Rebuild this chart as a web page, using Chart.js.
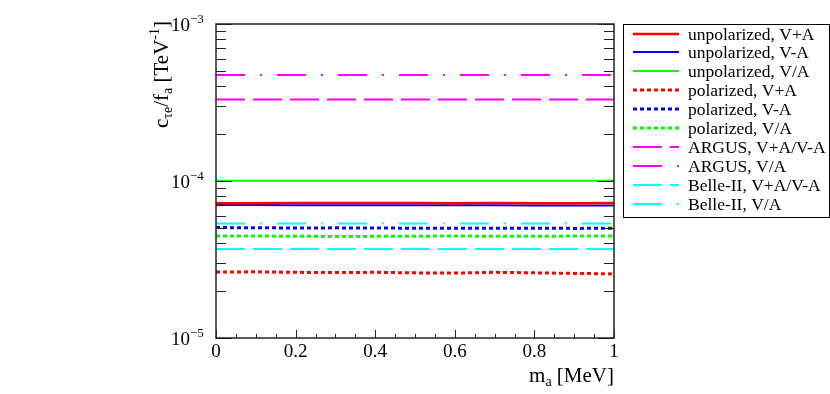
<!DOCTYPE html>
<html>
<head>
<meta charset="utf-8">
<script src="https://cdn.jsdelivr.net/npm/chart.js@4/dist/chart.umd.min.js"></script>
<style>
	html, body { margin: 0; padding: 0; background: #fff; }
</style>
</head>
<body>
<canvas id="limit-chart" width="830" height="394"></canvas>
<script>
// ****** chart data ******

// x values (m_a in MeV) where the curves were sampled
const mA = [0, 0.1, 0.2, 0.3, 0.4, 0.5, 0.6, 0.7, 0.8, 0.9, 1.0];

// unpolarized sensitivities
const unpolVpA = [7.22e-5, 7.22e-5, 7.23e-5, 7.23e-5, 7.24e-5, 7.23e-5, 7.22e-5, 7.23e-5, 7.22e-5, 7.22e-5, 7.23e-5];
const unpolVmA = [7.04e-5, 7.03e-5, 7.02e-5, 7.02e-5, 7.01e-5, 7.01e-5, 7.00e-5, 7.00e-5, 6.99e-5, 6.99e-5, 6.98e-5];
const unpolVA = [1.005e-4, 1.005e-4, 1.004e-4, 1.004e-4, 1.003e-4, 1.003e-4, 1.003e-4, 1.004e-4, 1.004e-4, 1.005e-4, 1.005e-4];

// polarized sensitivities
const polVpA = [2.63e-5, 2.64e-5, 2.62e-5, 2.61e-5, 2.62e-5, 2.60e-5, 2.59e-5, 2.62e-5, 2.60e-5, 2.58e-5, 2.56e-5];
const polVmA = [5.05e-5, 5.04e-5, 5.02e-5, 5.03e-5, 5.02e-5, 5.00e-5, 5.01e-5, 5.00e-5, 5.01e-5, 4.99e-5, 5.00e-5];
const polVA = [4.47e-5, 4.46e-5, 4.45e-5, 4.43e-5, 4.44e-5, 4.45e-5, 4.46e-5, 4.45e-5, 4.44e-5, 4.46e-5, 4.47e-5];

// existing / projected limits (flat lines across the range)
const limitX = [0, 1];
const argusVpmA = [3.31e-4, 3.31e-4];
const argusVA = [4.73e-4, 4.73e-4];
const belleVpmA = [3.69e-5, 3.69e-5];
const belleVA = [5.37e-5, 5.37e-5];

// y tick decades (10^-5 .. 10^-3) and x major ticks
const yDecades = [-5, -4, -3];
const xTickLabels = ['0', '0.2', '0.4', '0.6', '0.8', '1'];

const FONT = "'Liberation Serif', 'Times New Roman', serif";

// turns two arrays into {x, y} points for the linear x axis
function toPoints(xArr, yArr) {
	return xArr.map(function (x, i) {
		return { x: x, y: yArr[i] };
	});
}

function makeSet(label, xArr, yArr, color, width, dash) {
	return {
		label: label,
		data: toPoints(xArr, yArr),
		borderColor: color,
		backgroundColor: color,
		borderWidth: width,
		borderDash: dash,
		pointRadius: 0,
		tension: 0,
		fill: false
	};
}

const dotted = [4, 3];
const dashed = [29, 8];
const dashDot = [29, 15, 2, 15];

const datasets = [
	makeSet('unpolarized, V+A', mA, unpolVpA, '#ff0000', 2.5, []),
	makeSet('unpolarized, V-A', mA, unpolVmA, '#0000ff', 2, []),
	makeSet('unpolarized, V/A', mA, unpolVA, '#00ff00', 2, []),
	makeSet('polarized, V+A', mA, polVpA, '#ff0000', 3, dotted),
	makeSet('polarized, V-A', mA, polVmA, '#0000ff', 3, dotted),
	makeSet('polarized, V/A', mA, polVA, '#00ff00', 3, dotted),
	makeSet('ARGUS, V+A/V-A', limitX, argusVpmA, '#ff00ff', 2, dashed),
	makeSet('ARGUS, V/A', limitX, argusVA, '#ff00ff', 2, dashDot),
	makeSet('Belle-II, V+A/V-A', limitX, belleVpmA, '#00ffff', 2, dashed),
	makeSet('Belle-II, V/A', limitX, belleVA, '#00ffff', 2, dashDot)
];

// draws a run of text pieces (normal / sub / superscript) starting at x
function drawPieces(ctx, pieces, x, y) {
	pieces.forEach(function (p) {
		ctx.font = p.size + 'px ' + FONT;
		ctx.fillText(p.t, x, y + (p.dy || 0));
		x += ctx.measureText(p.t).width;
	});
	return x;
}

function piecesWidth(ctx, pieces) {
	let w = 0;
	pieces.forEach(function (p) {
		ctx.font = p.size + 'px ' + FONT;
		w += ctx.measureText(p.t).width;
	});
	return w;
}

// ROOT style frame, inward ticks, labels, titles and legend box
const rootStyle = {
	id: 'rootStyle',
	afterDatasetsDraw: function (chart) {
		const ctx = chart.ctx;
		const a = chart.chartArea;
		const xs = chart.scales.x;
		const ys = chart.scales.y;
		ctx.save();

		// frame
		ctx.strokeStyle = '#222';
		ctx.lineWidth = 1.5;
		ctx.setLineDash([]);
		ctx.strokeRect(a.left, a.top, a.right - a.left, a.bottom - a.top);

		// x ticks (bottom only)
		ctx.lineWidth = 1;
		ctx.beginPath();
		for (let i = 0; i <= 20; i++) {
			const px = Math.round(xs.getPixelForValue(i / 20)) + 0.5;
			const len = (i % 4 === 0) ? 8 : 4;
			ctx.moveTo(px, a.bottom);
			ctx.lineTo(px, a.bottom - len);
		}
		// y ticks, left and right
		yDecades.forEach(function (d) {
			const last = d === yDecades[yDecades.length - 1];
			for (let m = 1; m <= (last ? 1 : 9); m++) {
				const py = Math.round(ys.getPixelForValue(m * Math.pow(10, d))) + 0.5;
				const len = (m === 1) ? 16 : 10;
				ctx.moveTo(a.left, py);
				ctx.lineTo(a.left + len, py);
				ctx.moveTo(a.right, py);
				ctx.lineTo(a.right - len, py);
			}
		});
		ctx.stroke();

		ctx.fillStyle = '#000';

		// x tick labels
		ctx.textAlign = 'center';
		ctx.textBaseline = 'alphabetic';
		ctx.font = '19px ' + FONT;
		xTickLabels.forEach(function (t) {
			ctx.fillText(t, xs.getPixelForValue(parseFloat(t)), 357);
		});

		// y tick labels 10^n
		yDecades.forEach(function (d) {
			const py = ys.getPixelForValue(Math.pow(10, d));
			ctx.textAlign = 'right';
			ctx.font = '19px ' + FONT;
			ctx.fillText('10', 190, py + 7);
			ctx.textAlign = 'left';
			ctx.font = '13px ' + FONT;
			ctx.fillText('\u2212' + (-d), 190, py - 1);
		});

		// x title, right aligned to the axis end
		ctx.textAlign = 'left';
		const xTitle = [
			{ t: 'm', size: 21 },
			{ t: 'a', size: 14, dy: 4 },
			{ t: ' [MeV]', size: 21 }
		];
		drawPieces(ctx, xTitle, a.right - piecesWidth(ctx, xTitle), 382);

		// y title, rotated, right aligned to the top
		const yTitle = [
			{ t: 'c', size: 21 },
			{ t: '\u03c4e', size: 14, dy: 4 },
			{ t: '/f', size: 21 },
			{ t: 'a', size: 14, dy: 4 },
			{ t: ' [TeV', size: 21 },
			{ t: '-1', size: 14, dy: -9 },
			{ t: ']', size: 21 }
		];
		ctx.save();
		ctx.translate(168, 21);
		ctx.rotate(-Math.PI / 2);
		drawPieces(ctx, yTitle, -piecesWidth(ctx, yTitle), 0);
		ctx.restore();

		// legend box
		ctx.strokeStyle = '#000';
		ctx.lineWidth = 1;
		ctx.strokeRect(623.5, 24.5, 206, 193);
		ctx.textAlign = 'left';
		ctx.textBaseline = 'middle';
		ctx.font = '17.5px ' + FONT;
		chart.data.datasets.forEach(function (ds, i) {
			const ly = Math.round(33.5 + i * 18.9);
			ctx.strokeStyle = ds.borderColor;
			ctx.lineWidth = ds.borderWidth;
			ctx.setLineDash(ds.borderDash);
			ctx.beginPath();
			ctx.moveTo(633, ly);
			ctx.lineTo(679, ly);
			ctx.stroke();
			ctx.fillText(ds.label, 688, ly + 1);
		});
		ctx.setLineDash([]);

		ctx.restore();
	}
};

const ctx = document.getElementById('limit-chart').getContext('2d');

const chart = new Chart(ctx, {
	type: 'line',
	data: { datasets: datasets },
	options: {
		responsive: false,
		animation: false,
		events: [],
		layout: { padding: { left: 0, right: 216, top: 24, bottom: 0 } },
		plugins: {
			legend: { display: false },
			tooltip: { enabled: false }
		},
		scales: {
			x: {
				type: 'linear',
				min: 0,
				max: 1,
				grid: { display: false, drawTicks: false },
				border: { display: false },
				ticks: { display: false },
				afterFit: function (scale) { scale.height = 56; }
			},
			y: {
				type: 'logarithmic',
				min: 1e-5,
				max: 1e-3,
				grid: { display: false, drawTicks: false },
				border: { display: false },
				ticks: { display: false },
				afterFit: function (scale) { scale.width = 216; }
			}
		}
	},
	plugins: [rootStyle]
});
</script>
</body>
</html>
